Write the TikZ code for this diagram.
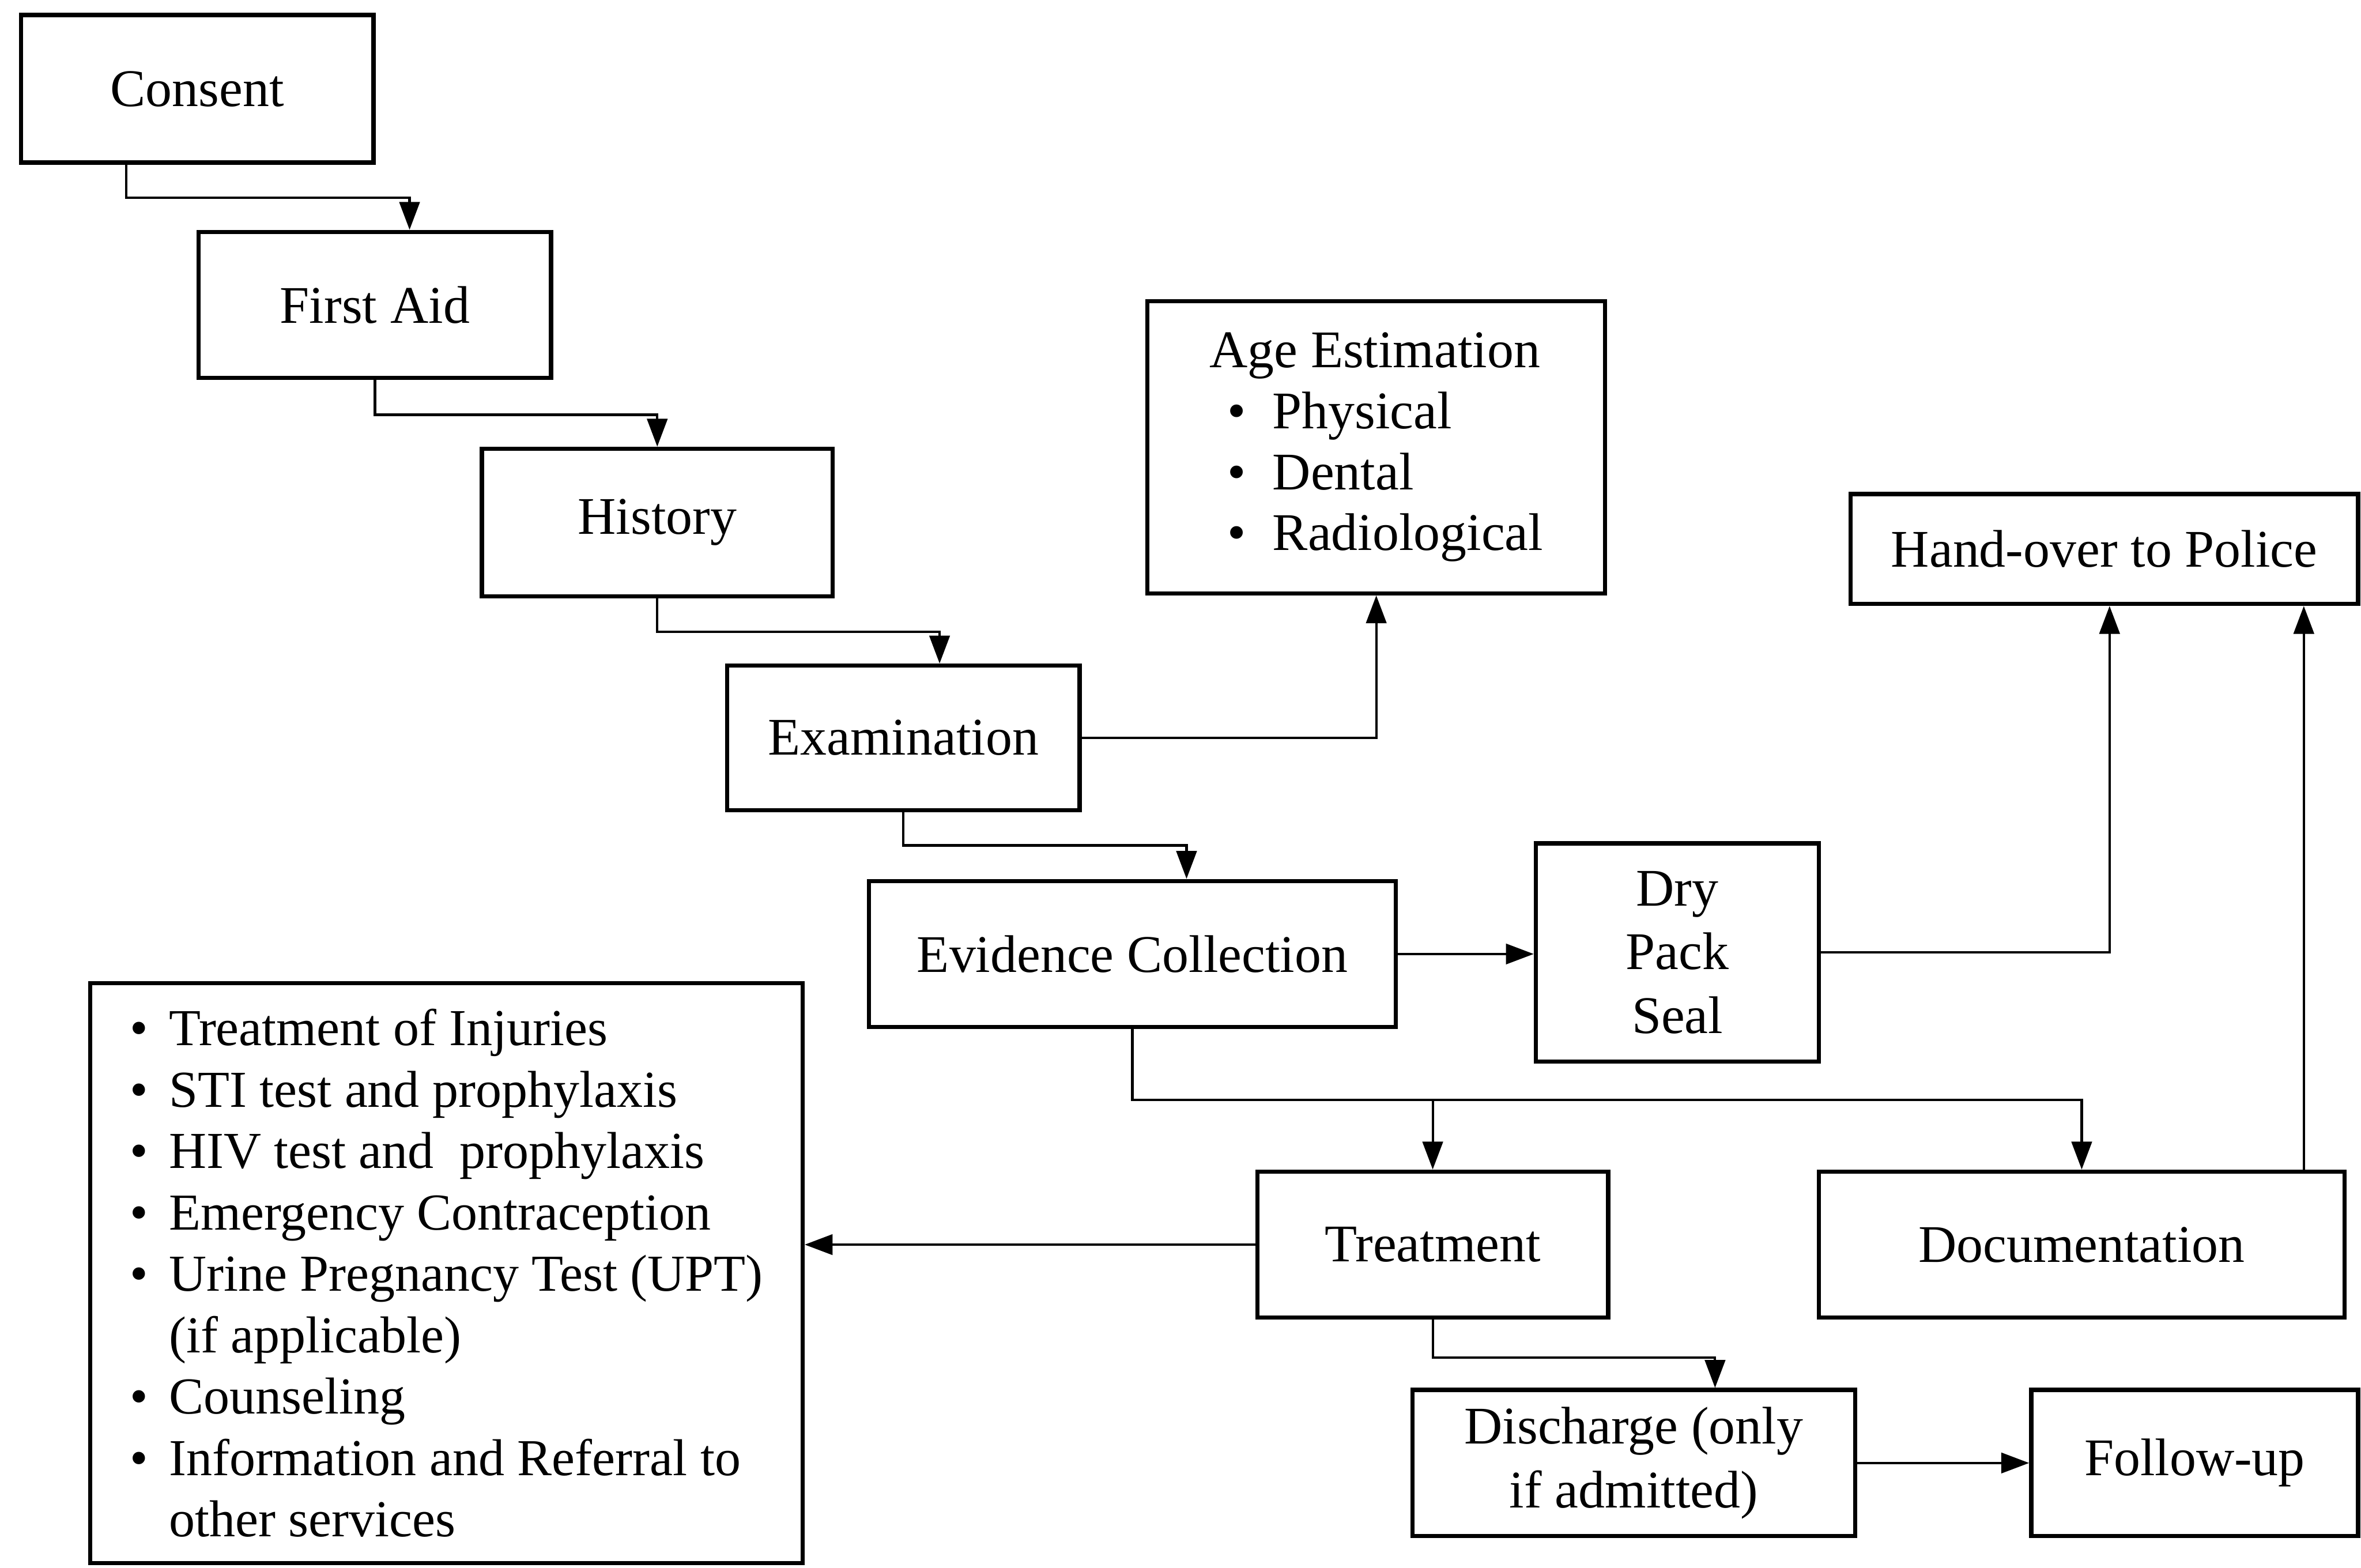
\documentclass[tikz,border=0pt]{standalone}
\usepackage{fontspec}
\setmainfont{Liberation Serif}
\usepackage{tikz}
\usetikzlibrary{arrows.meta}

\newcommand{\agebul}[1]{\hspace*{1.2mm}\makebox[3.0mm][l]{\textbullet}#1}
\newcommand{\itm}[1]{\makebox[2.6mm][l]{\textbullet}#1}
\newcommand{\cnt}[1]{\hspace*{2.6mm}#1}

\tikzset{
	box/.style={draw, line width=0.8pt, minimum height=0.97cm, inner sep=2pt, align=center,
		font=\fontsize{10}{11.5}\selectfont},
	flow/.style={->, line width=0.45pt},
	>={Triangle[length=1.85mm,width=1.35mm]}
}

\begin{document}
\begin{tikzpicture}
		\useasboundingbox (0,0) rectangle (15.68,10.41);
		\node[box, minimum width=2.34cm, minimum height=0.98cm] (consent) at (1.31,9.82) {Consent};
		\node[box, minimum width=2.34cm] (firstaid) at (2.49,8.385) {First Aid};
		\node[box, minimum width=2.33cm, minimum height=0.98cm] (history) at (4.365,6.94) {History};
		\node[box, minimum width=2.34cm, minimum height=0.96cm] (exam) at (6.00,5.51) {Examination};
		\node[box, minimum width=3.04cm, minimum height=1.94cm, align=left] (age) at (9.14,7.44)
			{Age Estimation\\ \agebul{Physical}\\ \agebul{Dental}\\ \agebul{Radiological}};
		\node[box, minimum width=3.37cm, minimum height=0.73cm] (police) at (13.975,6.765) {Hand-over to Police};
		\node[box, minimum width=3.50cm] (evidence) at (7.52,4.075) {Evidence Collection};
		\node[box, minimum width=1.88cm, minimum height=1.45cm, font=\fontsize{10}{12}\selectfont] (dry) at (11.14,4.085) {Dry\\Pack\\Seal};
		\node[box, minimum width=4.73cm, minimum height=3.85cm, align=left,
			font=\fontsize{9.8}{11.6}\selectfont] (care) at (2.965,1.955)
			{\itm{Treatment of Injuries}\\
			 \itm{STI test and prophylaxis}\\
			 \itm{HIV test and\ \ prophylaxis}\\
			 \itm{Emergency Contraception}\\
			 \itm{Urine Pregnancy Test (UPT)}\hspace*{1mm}\\
			 \cnt{(if applicable)}\\
			 \itm{Counseling}\\
			 \itm{Information and Referral to}\\
			 \cnt{other services}};
		\node[box, minimum width=2.33cm] (treat) at (9.515,2.145) {Treatment};
		\node[box, minimum width=3.49cm] (doc) at (13.825,2.145) {Documentation};
		\node[box, minimum width=2.94cm, font=\fontsize{10}{12}\selectfont] (discharge) at (10.85,0.695) {Discharge (only\\if admitted)};
		\node[box, minimum width=2.17cm] (followup) at (14.575,0.695) {Follow-up};
		%
		\coordinate (split) at ([yshift=-4.7mm]evidence.south);
		%
		\draw[flow] ([xshift=-4.7mm]consent.south) -- ++(0,-0.22) -| ([xshift=2.3mm]firstaid.north);
		\draw[flow] (firstaid.south) -- ++(0,-0.23) -| (history.north);
		\draw[flow] (history.south) -- ++(0,-0.22) -| ([xshift=2.4mm]exam.north);
		\draw[flow] (exam.south) -- ++(0,-0.22) -| ([xshift=3.6mm]evidence.north);
		\draw[flow] (exam.east) -| (age.south);
		\draw[flow] (evidence.east) -- (dry.west |- evidence.east);
		\draw[flow] (dry.east) -| ([xshift=0.35mm]police.south);
		\draw[flow] ([xshift=14.75mm]doc.north) -- ([xshift=14.75mm]doc.north |- police.south);
		\draw[flow] (evidence.south) -- (split) -| (doc.north);
		\draw[flow] (split) -| (treat.north);
		\draw[flow] (treat.west) -- (care.east |- treat.west);
		\draw[flow] (treat.south) -- ++(0,-0.25) -| ([xshift=5.4mm]discharge.north);
		\draw[flow] (discharge.east) -- (followup.west);
		\end{tikzpicture}
\end{document}
